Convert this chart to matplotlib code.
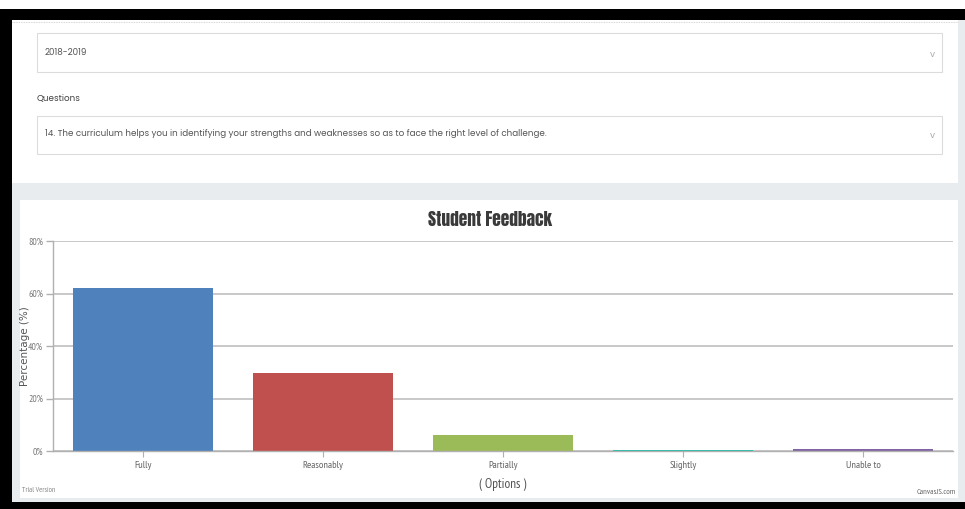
import matplotlib
matplotlib.use("Agg")
import matplotlib.pyplot as plt
from matplotlib.patches import Rectangle

# =============================
# DATA
# =============================
categories = ["Fully", "Reasonably", "Partially", "Slightly", "Unable to"]
percent    = [62.1, 29.8, 6.2, 0.4, 0.7]
bar_colors = ["#4F81BC", "#C0504E", "#9BBB58", "#23BFAA", "#8064A1"]
y_ticks    = [0, 20, 40, 60, 80]
year_text  = "2018-2019"
question   = ("14. The curriculum helps you in identifying your strengths and "
              "weaknesses so as to face the right level of challenge.")

W, H = 965, 509
PAGE   = ["Poppins", "DejaVu Sans"]
NARROW = ["PT Sans Narrow", "DejaVu Sans"]
TITLE  = ["Anton", "DejaVu Sans"]

fig = plt.figure(figsize=(W / 100, H / 100), dpi=100, facecolor="white")

# ── page background (pixel coords) ──────────────────────────────
bg = fig.add_axes([0, 0, 1, 1], zorder=0)
bg.set_xlim(0, W)
bg.set_ylim(H, 0)
bg.axis("off")

def box(x0, y0, x1, y1, fc, ec="none", lw=0):
    bg.add_patch(Rectangle((x0, y0), x1 - x0, y1 - y0,
                           facecolor=fc, edgecolor=ec, linewidth=lw))

box(0, 0, W, H, "#e9ecef")
box(0, 0, W, 9, "white")
box(10, 20, 958, 183, "white")
box(20, 200, 958, 498, "white")
box(0, 9, W, 20, "black")
box(0, 9, 12, H, "black")
box(0, 502, W, H, "black")
bg.plot([12, 958], [22, 22], color="#c8c8c8", lw=0.6, ls=(0, (1, 1)))

# dropdowns
box(37, 33, 942, 72, "white", "#dcdcdc", 0.8)
box(37, 116, 942, 154, "white", "#dcdcdc", 0.8)
bg.text(45, 52, year_text, fontsize=6.3, color="#555555",
        family=PAGE, va="center")
bg.text(37, 98, "Questions", fontsize=6.3, color="#444444",
        family=PAGE, va="center")
bg.text(45, 134, question, fontsize=6.3, color="#555555",
        family=PAGE, va="center")
for yy in (54, 136):
    bg.text(932, yy, "v", fontsize=6.5, color="#aaaaaa", ha="center",
            va="center", family=PAGE)

# ── chart ───────────────────────────────────────────────────────
left, right, top, bottom = 53, 953, 241, 451
ax = fig.add_axes([left / W, 1 - bottom / H, (right - left) / W,
                   (bottom - top) / H], zorder=1)
ax.set_facecolor("none")

x = range(len(categories))
ax.bar(x, percent, width=0.78, color=bar_colors, zorder=3)

ax.set_xlim(-0.5, len(categories) - 0.5)
ax.set_ylim(0, 80)
ax.set_yticks(y_ticks)
ax.set_yticklabels([f"{v}%" for v in y_ticks])
ax.set_xticks(list(x))
ax.set_xticklabels(categories)
ax.grid(True, axis="y", color="#c4c4c4", linewidth=1.3, zorder=0)

for name, sp in ax.spines.items():
    if name in ("top", "right"):
        sp.set_visible(False)
    else:
        sp.set_color("#b0b0b0")
        sp.set_linewidth(1.0)
ax.spines["bottom"].set_zorder(4)

ax.tick_params(axis="y", length=5, width=1, color="#b0b0b0", pad=2,
               labelsize=7, labelcolor="#777777")
ax.tick_params(axis="x", length=4, width=0.8, color="#b0b0b0", pad=3,
               labelsize=7.5, labelcolor="#666666")
for lab in ax.get_xticklabels() + ax.get_yticklabels():
    lab.set_family(NARROW)

ax.set_xlabel("( Options )", fontsize=9.5, color="#555555", family=NARROW,
              labelpad=6)
ax.set_ylabel("Percentage (%)", fontsize=7.5, color="#555555",
              family=["DejaVu Sans"])
ax.yaxis.set_label_coords((30 - left) / (right - left), 0.5)

fig.text(490 / W, 1 - 219 / H, "Student Feedback", fontsize=12.5,
         color="#3a3a3a", family=TITLE, ha="center", va="center", zorder=5)
fig.text(22 / W, 1 - 491 / H, "Trial Version", fontsize=5.5, color="#888888",
         family=NARROW, va="center")
fig.text(956 / W, 1 - 493 / H, "CanvasJS.com", fontsize=6, color="#666666",
         family=NARROW, va="center", ha="right")

fig.savefig("out.png", dpi=100, facecolor=fig.get_facecolor())
